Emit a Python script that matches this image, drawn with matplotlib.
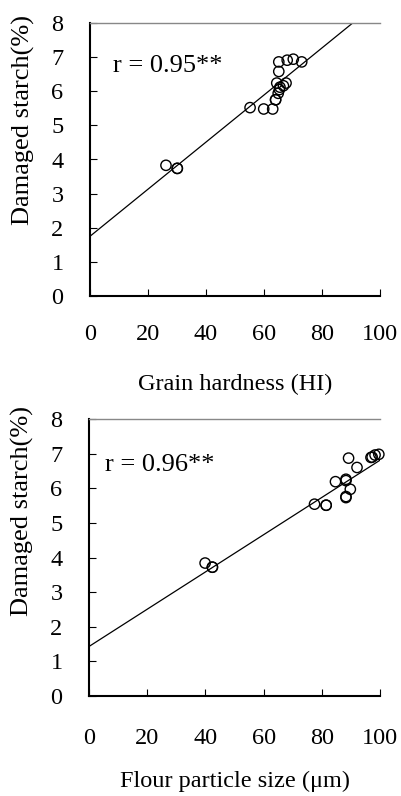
import matplotlib
matplotlib.use("Agg")
import matplotlib.pyplot as plt
import numpy as np

# ---- data ----
hardness = [26.2, 30.1, 30.1, 55.2, 59.9, 63.0, 64.0, 64.0, 64.9, 64.4, 65.5,
            66.7, 67.6, 65.1, 65.1, 68.0, 70.1, 73.0, 65.3]
starch_top = [3.83, 3.74, 3.74, 5.52, 5.48, 5.48, 5.75, 5.75, 5.94, 6.24, 6.12,
              6.16, 6.24, 6.58, 6.86, 6.91, 6.94, 6.86, 6.05]
particle = [39.9, 42.4, 42.4, 77.5, 81.5, 81.5, 84.7, 88.3, 88.3, 89.8, 88.3,
            88.3, 89.2, 92.1, 96.9, 97.3, 98.3, 99.6]
starch_bot = [3.84, 3.72, 3.72, 5.54, 5.51, 5.51, 6.19, 6.26, 6.22, 5.97, 5.76,
              5.73, 6.87, 6.60, 6.89, 6.90, 6.96, 6.98]

fit_top = (0.069, 1.75)   # slope, intercept
fit_bot = (0.0538, 1.43)
r_top = "r = 0.95**"
r_bot = "r = 0.96**"
xlabel_top = "Grain hardness (HI)"
xlabel_bot = "Flour particle size (\u03bcm)"
ylabel = "Damaged starch(%)"
xticks = [0, 20, 40, 60, 80, 100]
yticks = [0, 1, 2, 3, 4, 5, 6, 7, 8]

plt.rcParams['font.family'] = ['Liberation Serif', 'DejaVu Serif']
FS = 17.5

fig = plt.figure(figsize=(4.01, 7.96), dpi=100)
W, H = 401, 796

def make_ax(l, r, b, t):
    return fig.add_axes([l / W, (H - b) / H, (r - l) / W, (b - t) / H])

ax1 = make_ax(90, 380, 296, 23)
ax2 = make_ax(89, 380, 696, 419)

def style(ax, x, y, fit, rtxt, rpos, xlab, ylab_y, xpad, lpad):
    ax.scatter(x, y, s=55, facecolors='none', edgecolors='black', linewidths=1.0,
               zorder=3, clip_on=False)
    xs = np.array([0, 100])
    ax.plot(xs, fit[0] * xs + fit[1], color='black', lw=0.9, zorder=2)
    ax.set_xlim(0, 100)
    ax.set_ylim(0, 8)
    ax.set_xticks(xticks)
    ax.set_yticks(yticks)
    ax.tick_params(direction='in', length=5, width=0.8, labelsize=FS)
    ax.tick_params(axis='y', pad=19)
    ax.tick_params(axis='x', pad=xpad)
    ax.spines['right'].set_visible(False)
    ax.spines['top'].set_color('#888888')
    ax.spines['top'].set_linewidth(1.0)
    ax.spines['left'].set_linewidth(1.5)
    ax.spines['bottom'].set_linewidth(1.5)
    ax.text(rpos[0], rpos[1], rtxt, fontsize=FS + 1.5, ha='left', va='center')
    ax.set_xlabel(xlab, fontsize=FS, labelpad=lpad)
    ax.set_ylabel(ylabel, fontsize=19)
    ax.yaxis.set_label_coords(-0.19, ylab_y)

style(ax1, hardness, starch_top, fit_top, r_top, (7.9, 6.74), xlabel_top, 0.645, 20, 21)
style(ax2, particle, starch_bot, fit_bot, r_bot, (5.5, 6.67), xlabel_bot, 0.667, 23, 16)

fig.savefig("out.png", dpi=100)
